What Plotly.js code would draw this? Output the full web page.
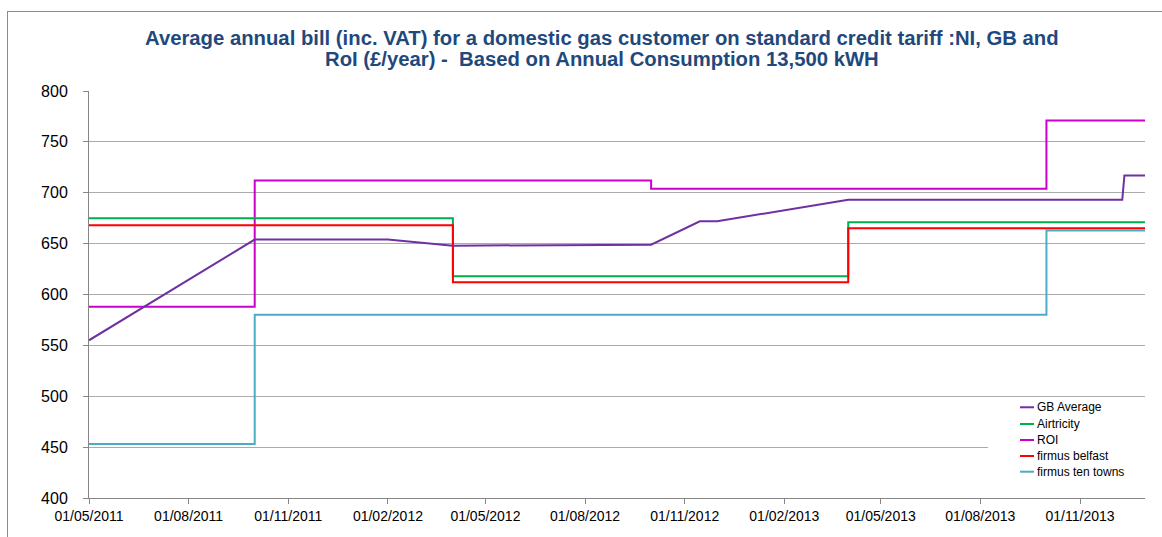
<!DOCTYPE html>
<html>
<head>
<meta charset="utf-8">
<script src="https://cdn.plot.ly/plotly-3.0.1.min.js"></script>
<style>
  html, body { margin: 0; padding: 0; background: #fff; overflow: hidden; }
  #wrap { position: relative; width: 1162px; height: 537px; }
  #chart { width: 1162px; height: 537px; }
  #slidebox { position: absolute; left: 7px; top: 11px; width: 1200px; height: 600px;
              border-top: 1px solid #8C8C8C; border-left: 1px solid #8C8C8C;
              pointer-events: none; box-sizing: border-box; }
</style>
</head>
<body>
<div id="wrap">
  <div id="chart"></div>
  <div id="slidebox"></div>
</div>
<script>
// ---- data ----
const seriesNames = ['GB Average', 'Airtricity', 'ROI', 'firmus belfast', 'firmus ten towns'];

const gbDates   = ['2011-05-01', '2011-10-01', '2012-02-01', '2012-04-01', '2012-10-01', '2012-11-15', '2012-12-01', '2013-04-01', '2013-12-10', '2013-12-12', '2013-12-31'];
const gbValues  = [555, 654, 654, 648, 649, 672, 672, 693, 693, 717, 717];

const airDates  = ['2011-05-01', '2012-04-01', '2013-04-01', '2013-12-31'];
const airValues = [675, 618, 671, 671];

const roiDates  = ['2011-05-01', '2011-10-01', '2012-10-01', '2013-10-01', '2013-12-31'];
const roiValues = [588, 712, 704, 771, 771];

const belDates  = ['2011-05-01', '2012-04-01', '2013-04-01', '2013-12-31'];
const belValues = [668, 612, 665, 665];

const tenDates  = ['2011-05-01', '2011-10-01', '2013-10-01', '2013-12-31'];
const tenValues = [453, 580, 663, 663];

const xTickDates  = ['2011-05-01', '2011-08-01', '2011-11-01', '2012-02-01', '2012-05-01', '2012-08-01', '2012-11-01', '2013-02-01', '2013-05-01', '2013-08-01', '2013-11-01'];
const xTickLabels = ['01/05/2011', '01/08/2011', '01/11/2011', '01/02/2012', '01/05/2012', '01/08/2012', '01/11/2012', '01/02/2013', '01/05/2013', '01/08/2013', '01/11/2013'];

const titleLines = [
  'Average annual bill (inc. VAT) for a domestic gas customer on standard credit tariff :NI, GB and',
  'RoI (£/year) -  Based on Annual Consumption 13,500 kWH'
];

const seriesColors = ['#7030A0', '#00B050', '#CC00CC', '#FF0000', '#4BACC6'];

// ---- traces ----
const FONT = 'Liberation Sans, Arial, sans-serif';
const traces = [
  { x: gbDates,  y: gbValues,  shape: 'linear' },
  { x: airDates, y: airValues, shape: 'hv' },
  { x: roiDates, y: roiValues, shape: 'hv' },
  { x: belDates, y: belValues, shape: 'hv' },
  { x: tenDates, y: tenValues, shape: 'hv' }
].map((t, i) => ({
  type: 'scatter', mode: 'lines', name: seriesNames[i],
  x: t.x, y: t.y,
  line: { color: seriesColors[i], width: 2, shape: t.shape },
  hoverinfo: 'x+y+name'
}));
// draw order like the reference: cyan, magenta, green, red, purple on top
const drawOrder = [4, 2, 1, 3, 0];
const data = drawOrder.map(i => traces[i]);

// ---- custom legend (paper coords) ----
const legX0 = 0.8816, legX1 = 0.8949, legTextX = 0.8960;
const legRows = [0.2229, 0.1818, 0.1425, 0.1032, 0.0646];
const shapes = [
  // legend background
  { type: 'rect', xref: 'paper', yref: 'paper', x0: 0.8513, x1: 1.0, y0: 0.044, y1: 0.243,
    line: { width: 0 }, fillcolor: '#FFFFFF', layer: 'above' }
];
const annotations = [];
legRows.forEach((ry, i) => {
  shapes.push({ type: 'line', xref: 'paper', yref: 'paper', x0: legX0, x1: legX1, y0: ry, y1: ry,
    line: { color: seriesColors[i], width: 2 }, layer: 'above' });
  annotations.push({ xref: 'paper', yref: 'paper', x: legTextX, y: ry, xanchor: 'left', yanchor: 'middle',
    text: seriesNames[i], showarrow: false, font: { family: FONT, size: 12, color: '#000' } });
});
// title lines (Excel-like tight line spacing)
const titleY = [1.129, 1.0774];
titleLines.forEach((t, i) => {
  annotations.push({ xref: 'paper', yref: 'paper', x: 0.4855, y: titleY[i], xanchor: 'center', yanchor: 'middle',
    text: '<b>' + t + '</b>', showarrow: false, font: { family: FONT, size: 20.3, color: '#1F497D' } });
});

const layout = {
  width: 1162, height: 537,
  margin: { l: 89, r: 17, t: 91, b: 39 },
  paper_bgcolor: '#FFFFFF', plot_bgcolor: '#FFFFFF',
  showlegend: false,
  xaxis: {
    type: 'date',
    range: ['2011-05-01', '2013-12-31'],
    tickvals: xTickDates, ticktext: xTickLabels,
    ticks: 'outside', ticklen: 5, tickcolor: '#868686',
    showline: true, linecolor: '#868686', linewidth: 1,
    showgrid: false, zeroline: false,
    tickfont: { family: FONT, size: 14, color: '#000' }
  },
  yaxis: {
    range: [400, 800], dtick: 50, tick0: 400,
    ticks: 'outside', ticklen: 5, tickcolor: '#868686',
    showline: true, linecolor: '#868686', linewidth: 1,
    showgrid: true, gridcolor: '#ABABAB', gridwidth: 1,
    zeroline: false,
    ticklabelstandoff: 12,
    tickfont: { family: FONT, size: 16, color: '#000' }
  },
  shapes: shapes,
  annotations: annotations
};

Plotly.newPlot('chart', data, layout, { displayModeBar: false, staticPlot: true });
</script>
</body>
</html>
